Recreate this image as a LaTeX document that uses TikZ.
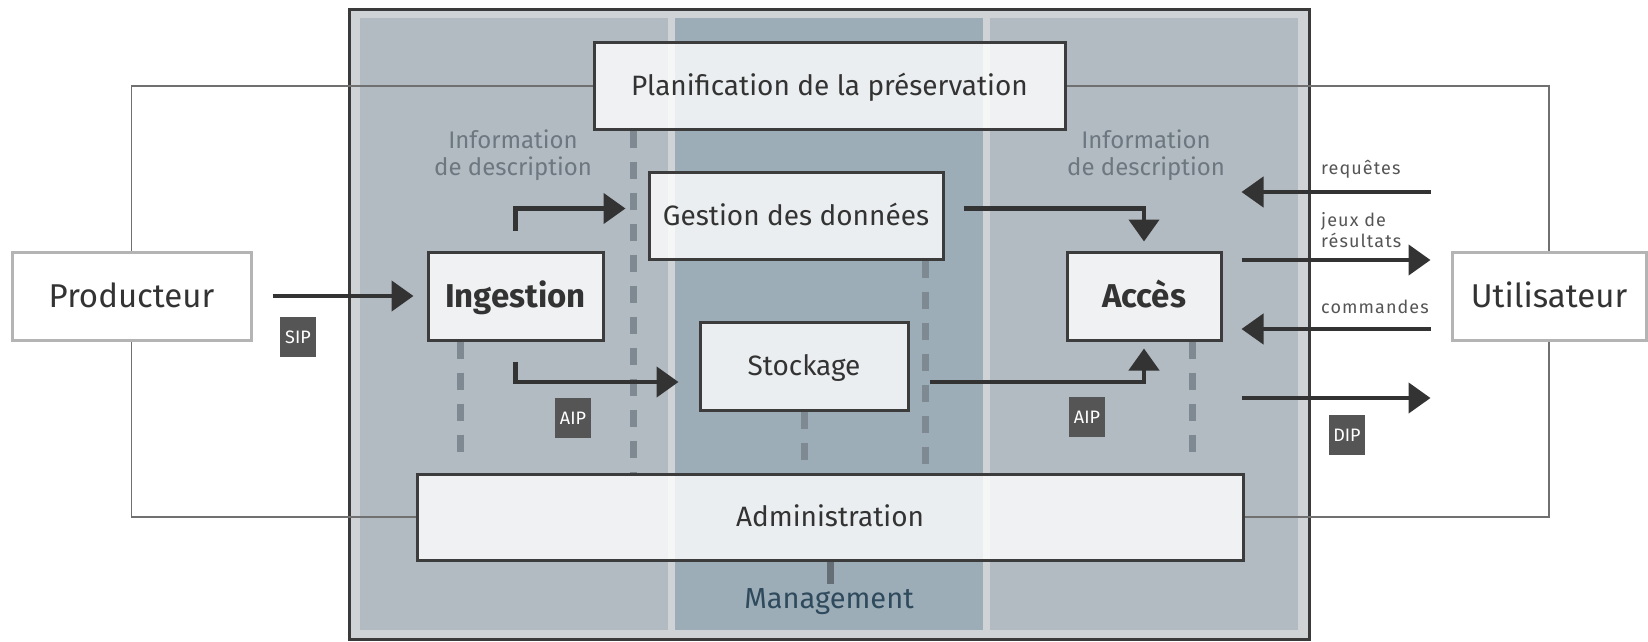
\documentclass[tikz,border=0pt]{standalone}
\usepackage{fontspec}
\setmainfont{Fira Sans}
\usetikzlibrary{arrows.meta}
\definecolor{frameC}{HTML}{3A3A3A}
\definecolor{marginC}{HTML}{CFD3D6}
\definecolor{colC}{HTML}{B3BBC2}
\definecolor{midC}{HTML}{9DADB8}
\definecolor{boxC}{HTML}{3C3C3C}
\definecolor{extC}{HTML}{B4B4B4}
\definecolor{arrC}{HTML}{333333}
\definecolor{dashC}{HTML}{7E8992}
\definecolor{loopC}{HTML}{707070}
\definecolor{tagC}{HTML}{555555}
\definecolor{infoC}{HTML}{6C7780}
\definecolor{smallC}{HTML}{555555}
\definecolor{mgmtC}{HTML}{2E4A5C}
\definecolor{txtC}{HTML}{333333}
\begin{document}
\begin{tikzpicture}[x=1pt,y=-1pt,
  box/.style={draw=boxC, line width=3pt, fill=white, fill opacity=0.8, text opacity=1,
    inner sep=0pt, text=txtC, font=\fontsize{28}{30}\selectfont, text height=19.5pt, text depth=0pt},
  bbox/.style={box, font=\fontsize{33}{35}\selectfont\bfseries, text height=23pt, text depth=0pt},
  ext/.style={draw=extC, line width=3pt, fill=white, inner sep=0pt, text=txtC,
    font=\fontsize{33}{35}\selectfont, text height=23pt, text depth=0pt},
  arr/.style={draw=arrC, line width=4.5pt, -{Triangle[length=22pt,width=30pt]}},
  dline/.style={draw=dashC, line width=7pt, dash pattern=on 17pt off 14pt},
  loop/.style={draw=loopC, line width=1.6pt},
  tag/.style={fill=tagC, text=white, minimum width=36pt, minimum height=40pt,
    inner sep=0pt, font=\fontsize{18}{18}\selectfont},
  small/.style={text=smallC, font=\fontsize{18}{21}\selectfont\addfontfeature{LetterSpace=6},
    anchor=west, align=left, inner sep=0pt},
  info/.style={text=infoC, font=\fontsize{24}{27}\selectfont, align=center, inner sep=0pt}
]
\useasboundingbox (0,0) rectangle (1648,642);
% frame and columns
\draw[draw=frameC, line width=3pt, fill=marginC] (349,10) rectangle (1309,639);
\fill[colC] (360,18) rectangle (668,630);
\fill[midC] (675,18) rectangle (983,630);
\fill[colC] (990,18) rectangle (1298,630);

% nodes
\node[ext, minimum width=239pt, minimum height=88pt] (prod) at (131.5,296) {Producteur};
\node[ext, minimum width=194pt, minimum height=88pt] (util) at (1549,296) {Utilisateur};
\node[box, minimum width=471pt, minimum height=86pt] (plan) at (829.5,86) {Planification de la préservation};
\node[bbox, minimum width=175pt, minimum height=88pt] (ing) at (515.5,296) {Ingestion};
\node[box, minimum width=294pt, minimum height=87pt] (gest) at (796,215.5) {Gestion des données};
\node[box, minimum width=208pt, minimum height=88pt] (stock) at (804,366) {Stockage};
\node[bbox, minimum width=154pt, minimum height=88pt] (acc) at (1144,296) {Accès};
\node[box, minimum width=826pt, minimum height=86pt] (admin) at (830,517) {Administration};

% loop lines
\draw[loop] (prod.north) |- (plan.west);
\draw[loop] (prod.south) |- (admin.west);
\draw[loop] (util.north) |- (plan.east);
\draw[loop] (util.south) |- (admin.east);

% dashed lines
\coordinate (dA) at (633,0);
\coordinate (dB) at (460,0);
\coordinate (dC) at (925,0);
\coordinate (dD) at (1192,0);
\draw[dline] (dA |- plan.south) -- (dA |- admin.north);
\draw[dline] (dB |- ing.south) -- ++(0,115);
\draw[dline] (stock.south) -- ++(0,50);
\draw[dline] (dC |- gest.south) -- (dC |- admin.north);
\draw[dline] (dD |- acc.south) -- ++(0,115);

% management
\node[text=mgmtC, font=\fontsize{29}{31}\selectfont, inner sep=0pt] (mgmt) at (829,602) {Management};
\draw[draw=dashC!80!black, line width=7pt] (admin.south) -- ++(0,22);

% arrows
\draw[arr] ([xshift=20pt]prod.east) -- ([xshift=-13pt]ing.west);
\draw[arr] ([yshift=20pt]ing.north) |- ([xshift=-22pt,yshift=7pt]gest.west);
\draw[arr] ([yshift=-20pt]ing.south) |- ([xshift=-20pt,yshift=-16pt]stock.west);
\draw[arr] ([xshift=19pt,yshift=7pt]gest.east) -| ([yshift=9pt]acc.north);
\draw[arr] ([xshift=20pt,yshift=-16pt]stock.east) -| ([yshift=-7pt]acc.south);
\draw[arr] ([xshift=-20pt,yshift=104pt]util.west) -- ([xshift=19pt,yshift=104pt]acc.east);
\draw[arr] ([xshift=19pt,yshift=36pt]acc.east) -- ([xshift=-20pt,yshift=36pt]util.west);
\draw[arr] ([xshift=-20pt,yshift=-33pt]util.west) -- ([xshift=19pt,yshift=-33pt]acc.east);
\draw[arr] ([xshift=19pt,yshift=-102pt]acc.east) -- ([xshift=-20pt,yshift=-102pt]util.west);

% tags
\node[tag] (sip) at (298,337) {SIP};
\node[tag] (aip1) at (573,418) {AIP};
\node[tag] (aip2) at (1087,417) {AIP};
\node[tag] (dip) at (1347,435) {DIP};

% info texts
\node[info] (infoL) at (513,155) {Information\\de description};
\node[info] (infoR) at (1146,155) {Information\\de description};

% small labels
\node[small] (req) at (1321,169) {requêtes};
\node[small] (jeux) at (1321,230) {jeux de\\résultats};
\node[small] (cmd) at (1321,307) {commandes};
\end{tikzpicture}
\end{document}
